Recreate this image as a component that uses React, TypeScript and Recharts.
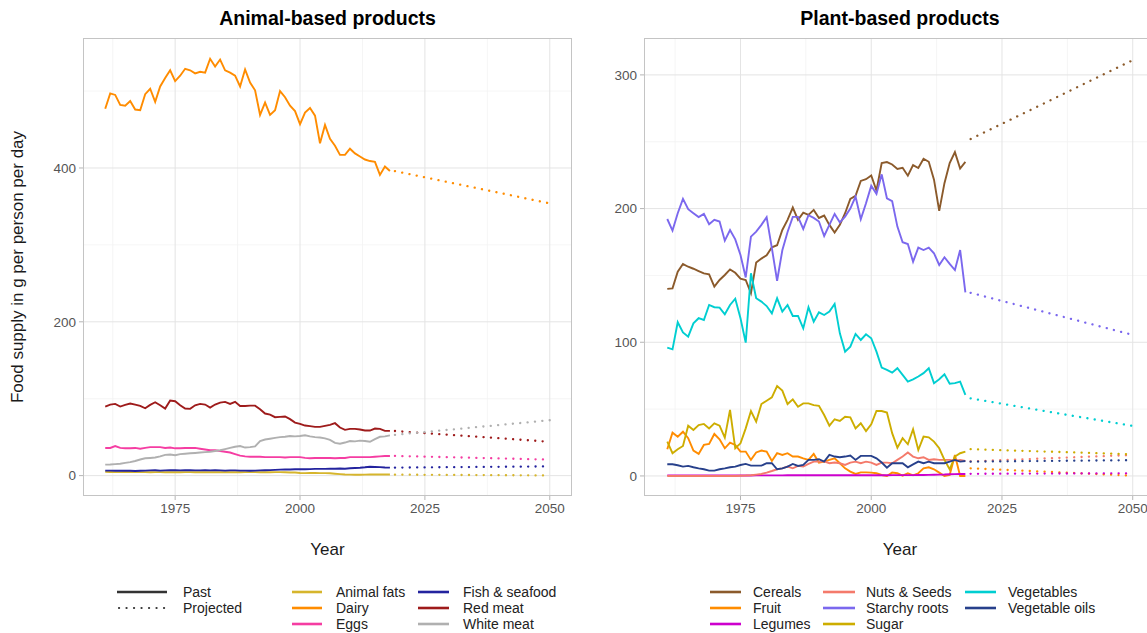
import React from 'react';
import { LineChart, Line, XAxis, YAxis, CartesianGrid } from 'recharts';

const FONT = '"Liberation Sans", Arial, Helvetica, sans-serif';

// x values
const YEARS = [
  1961, 1962, 1963, 1964, 1965, 1966, 1967, 1968, 1969, 1970,
  1971, 1972, 1973, 1974, 1975, 1976, 1977, 1978, 1979, 1980,
  1981, 1982, 1983, 1984, 1985, 1986, 1987, 1988, 1989, 1990,
  1991, 1992, 1993, 1994, 1995, 1996, 1997, 1998, 1999, 2000,
  2001, 2002, 2003, 2004, 2005, 2006, 2007, 2008, 2009, 2010,
  2011, 2012, 2013, 2014, 2015, 2016, 2017, 2018,
];
const PROJ_YEARS = [2019, 2050];
const X_TICKS = [1975, 2000, 2025, 2050];
const X_MINOR = [1962.5, 1987.5, 2012.5, 2037.5];

// ---- animal-based (g per person per day) ----
const ANIMAL_FATS = [
  5, 4.8, 4.5, 4.5, 4.8, 4.8, 4.5, 4.5, 4.5, 4.3,
  4.5, 4.5, 4.3, 4.5, 4.3, 4.3, 4.5, 4.5, 4.3, 4.3,
  4.3, 4.3, 4.5, 4.3, 4.3, 4.5, 4.3, 4.3, 4.5, 4.5,
  4.5, 4.3, 4.3, 4.3, 4.5, 4.5, 4.3, 4, 4, 3.5,
  3.2, 3.5, 3.5, 3.3, 3.2, 3, 2.5, 2, 1.5, 1.3,
  1.2, 1.2, 1.3, 1.4, 1.4, 1.5, 1.5, 1.5,
];
const DAIRY = [
  477, 497, 495, 482, 481, 487, 476, 475, 496, 503,
  486, 506, 517, 527, 513, 520, 529, 527, 523, 525,
  524, 542, 532, 541, 527, 524, 520, 506, 528, 511,
  501, 469, 485, 469, 475, 500, 492, 481, 474, 457,
  472, 478, 468, 432, 456, 438, 429, 417, 417, 425,
  419, 415, 411, 409, 408, 391, 402, 396,
];
const EGGS = [
  36, 36, 38.5, 36, 35.5, 35.5, 36, 35, 36, 37,
  37, 37, 36, 36.5, 35.5, 35.5, 36, 36, 36, 35,
  34, 33, 33, 32, 31, 30, 28, 26, 25, 24.5,
  24.5, 24.5, 24, 24, 24, 24, 23.5, 24, 24, 24,
  23, 22.5, 23, 23, 23, 23, 22.5, 23, 23, 24,
  24, 24, 24, 24, 24.5, 25, 25.5, 25.6,
];
const FISH = [
  6.5, 6.5, 6.3, 6.3, 6.5, 6.3, 6, 6.3, 6.5, 6.8,
  7, 6.5, 6.8, 7.2, 7, 6.8, 7, 7.2, 6.8, 6.8,
  7, 6.8, 7, 6.8, 6.5, 6.8, 6.8, 6.5, 6.5, 6.3,
  6.5, 6.8, 7, 7.2, 7.5, 7.8, 8, 8, 8.2, 8.5,
  8.3, 8.5, 8.8, 8.8, 8.8, 9, 9, 9.2, 9, 9.5,
  10, 10.3, 10.8, 11.5, 11.2, 11, 10.6, 10.4,
];
const RED_MEAT = [
  89.8, 92.4, 93.3, 89.8, 92, 93.7, 92.4, 90.6, 87.6, 92,
  95.4, 91.5, 87.2, 97.6, 96.7, 91.5, 87.2, 86.8, 91.5, 93.3,
  92.4, 88.5, 92.4, 95, 95.9, 93.3, 95.9, 90.6, 90.6, 91,
  91, 86.4, 80.7, 79.4, 76, 76.4, 76.9, 73.4, 69, 67.3,
  65.1, 64.3, 63.4, 63.4, 64.7, 66, 68.2, 62.5, 59.5, 60.8,
  60.8, 60, 58.6, 58.6, 61.2, 60.8, 58.2, 58.2,
];
const WHITE_MEAT = [
  14.3, 14.5, 15, 15.5, 16.5, 17.5, 19, 21, 22.5, 23,
  23.5, 25, 27, 27.5, 26.5, 28, 28.5, 29, 29.5, 30,
  30.5, 31, 32, 33, 34.5, 36, 37.5, 38.5, 36.5, 37,
  38, 45, 47, 48, 49, 50, 50.5, 51.5, 51, 51.5,
  52.5, 51, 50, 49.5, 48.5, 46.5, 42.5, 41.5, 43, 45,
  44.5, 45.5, 45, 44, 47.5, 50.5, 51, 52.3,
];
const ANIMAL_FATS_PROJ = [1.3, 0.2];
const DAIRY_PROJ = [396, 354];
const EGGS_PROJ = [25.6, 20.8];
const FISH_PROJ = [10.4, 12];
const RED_MEAT_PROJ = [58, 44];
const WHITE_MEAT_PROJ = [53, 72];

// ---- plant-based (g per person per day) ----
const CEREALS = [
  139.9, 140.3, 152.8, 158.5, 156.5, 155, 153.3, 151.5, 150.8, 141.6,
  146.6, 150.3, 154.5, 152, 147.6, 146.6, 136.6, 159.6, 162.6, 165,
  171, 172.6, 184, 191.6, 200.8, 191.6, 197, 195.3, 199, 193,
  194.8, 187.8, 182, 187.8, 196.5, 207.3, 209.5, 220.7, 222, 224.8,
  213.5, 234, 234.8, 233, 229.6, 230.5, 224.6, 232.5, 230.3, 237.3,
  235, 221.6, 198.3, 219, 234, 242.2, 230, 235,
];
const FRUIT = [
  20, 32.4, 29.4, 33.1, 28.2, 18.9, 16.5, 23.2, 23.9, 31.4,
  27.4, 20.7, 24.9, 23.2, 18.2, 18.2, 12, 17.6, 19, 18.2,
  11.2, 17, 15.7, 17, 14.5, 14.5, 13.2, 12, 16.5, 10,
  10.7, 12, 13.2, 9.5, 5.7, 3.2, 1.5, 2.7, 2.7, 2.5,
  2, 0.7, 0, 2.5, 2, 0.2, 2, 0.5, 2, 5.7,
  6.5, 5, 2.5, 0, 0.7, 15.7, 0, 0,
];
const LEGUMES = [
  0.4, 0.4, 0.3, 0.4, 0.3, 0.3, 0.4, 0.3, 0.3, 0.3,
  0.3, 0.3, 0.4, 0.3, 0.3, 0.3, 0.3, 0.4, 0.4, 0.4,
  0.4, 0.4, 0.4, 0.5, 0.5, 0.5, 0.5, 0.5, 0.5, 0.5,
  0.5, 0.5, 0.5, 0.5, 0.5, 0.5, 0.5, 0.5, 0.5, 0.5,
  0.5, 0.5, 0.5, 0.6, 0.6, 0.6, 0.6, 0.6, 0.7, 0.7,
  0.8, 0.9, 1, 1.1, 1.3, 1.4, 1.5, 1.5,
];
const NUTS = [
  0, 0, 0, 0, 0, 0, 0, 0, 0, 0,
  0, 0, 0, 0, 0.2, 0.3, 0.5, 1, 1.5, 2.5,
  3.7, 5, 5.7, 7, 5.7, 7.5, 7, 9, 10.7, 10.7,
  11, 9.5, 10, 9.5, 8.2, 10, 10.7, 9.5, 10.7, 10,
  8.2, 10, 10, 9.5, 12, 14.5, 17.5, 14.5, 13.2, 14,
  12, 12.5, 12, 12, 12, 11.5, 12, 11.2,
];
const STARCHY = [
  192.2, 183.5, 196.5, 207.3, 199.5, 196.5, 193.6, 196, 188.3, 191.6,
  190.3, 176, 184, 177, 165.3, 148.5, 179, 182.8, 187.8, 193.6,
  170.4, 146, 168.8, 182.5, 193.8, 193.8, 184.8, 195, 193, 190.3,
  179.5, 187.8, 196, 189.6, 194, 200, 209, 192, 204, 217,
  211, 225.6, 207.7, 205.6, 186.5, 174.8, 173.5, 160.3, 170.8, 169,
  170.8, 166.6, 157.8, 163.6, 158.6, 154, 169, 137.4,
];
const SUGAR = [
  25.7, 17, 20, 22.4, 37.6, 34.4, 38, 38.9, 35.6, 39.4,
  37.6, 28.7, 49.4, 20.7, 24.4, 35.6, 48.6, 40.6, 53.8, 56.3,
  58.8, 67.3, 63.8, 53.8, 57.3, 51.8, 54.3, 54.3, 53, 52.4,
  45.6, 37.6, 42.4, 41.1, 44.3, 43.8, 35.6, 39.4, 33.6, 38.6,
  48.6, 48.6, 47.4, 32, 21.2, 28.2, 23.7, 34.9, 19.4, 29.4,
  28.9, 25.7, 20.7, 12, 5, 14.5, 17, 18.2,
];
const VEGETABLES = [
  96, 94.7, 115, 107.4, 104.2, 114.2, 118, 116.7, 127.9, 126.2,
  125.9, 120.9, 127.9, 132.6, 118, 99.7, 151.6, 132.9, 130.4, 127.1,
  121.6, 132.9, 122.9, 127.9, 119.7, 119.7, 110.4, 126.2, 115.4, 122.4,
  120.4, 122.9, 128.7, 106.7, 93, 96.7, 106.2, 101.7, 106, 103,
  93, 81, 79.3, 77.3, 80.6, 75.6, 70.6, 72.3, 74.4, 76.9,
  80.6, 69.4, 72.3, 76, 69, 69.4, 70.6, 60.6,
];
const VEG_OILS = [
  8.7, 8.7, 8, 7, 7.5, 6.5, 5.7, 5, 4, 4,
  5, 5.7, 6.5, 7, 8.2, 9, 7.7, 7.7, 7.7, 9.5,
  9.5, 5, 5.7, 7, 9, 7.5, 8.2, 12, 12, 12.5,
  10.7, 15.7, 14.5, 14, 14.5, 15.2, 12, 15, 15, 15,
  13.2, 10, 6.2, 9.5, 9.5, 9.5, 6.5, 8.7, 10.7, 9.5,
  10.7, 9.5, 9.5, 9.5, 10.7, 12, 10.7, 11.2,
];
const CEREALS_PROJ = [252, 311];
const FRUIT_PROJ = [5.7, 0.2];
const LEGUMES_PROJ = [1.6, 2];
const NUTS_PROJ = [10.9, 15.7];
const STARCHY_PROJ = [137, 105.5];
const SUGAR_PROJ = [20, 16.2];
const VEGETABLES_PROJ = [58, 37.4];
const VEG_OILS_PROJ = [10.7, 11.8];

type Series = { key: string; name: string; color: string; past: number[]; proj: number[] };

const ANIMAL: Series[] = [
  { key: 'fats', name: 'Animal fats', color: '#D6B52C', past: ANIMAL_FATS, proj: ANIMAL_FATS_PROJ },
  { key: 'dairy', name: 'Dairy', color: '#FF8C00', past: DAIRY, proj: DAIRY_PROJ },
  { key: 'eggs', name: 'Eggs', color: '#F53DA2', past: EGGS, proj: EGGS_PROJ },
  { key: 'fish', name: 'Fish & seafood', color: '#23239E', past: FISH, proj: FISH_PROJ },
  { key: 'red', name: 'Red meat', color: '#9E1B1B', past: RED_MEAT, proj: RED_MEAT_PROJ },
  { key: 'white', name: 'White meat', color: '#B0B0B0', past: WHITE_MEAT, proj: WHITE_MEAT_PROJ },
];

const PLANT: Series[] = [
  { key: 'cereals', name: 'Cereals', color: '#8B5A2B', past: CEREALS, proj: CEREALS_PROJ },
  { key: 'fruit', name: 'Fruit', color: '#FF8C00', past: FRUIT, proj: FRUIT_PROJ },
  { key: 'legumes', name: 'Legumes', color: '#CD00CD', past: LEGUMES, proj: LEGUMES_PROJ },
  { key: 'nuts', name: 'Nuts & Seeds', color: '#F47A6B', past: NUTS, proj: NUTS_PROJ },
  { key: 'starchy', name: 'Starchy roots', color: '#7B68EE', past: STARCHY, proj: STARCHY_PROJ },
  { key: 'sugar', name: 'Sugar', color: '#CDAD00', past: SUGAR, proj: SUGAR_PROJ },
  { key: 'veg', name: 'Vegetables', color: '#00CED1', past: VEGETABLES, proj: VEGETABLES_PROJ },
  { key: 'oils', name: 'Vegetable oils', color: '#27408B', past: VEG_OILS, proj: VEG_OILS_PROJ },
];

function buildRows(series: Series[]) {
  const rows: any[] = YEARS.map((year, i) => {
    const r: any = { year };
    series.forEach((s) => { r[s.key] = s.past[i]; });
    return r;
  });
  PROJ_YEARS.forEach((year, i) => {
    const r: any = { year };
    series.forEach((s) => { r[s.key + '_p'] = s.proj[i]; });
    rows.push(r);
  });
  return rows;
}

const TICK = { fill: '#555', fontSize: 13.5, fontFamily: FONT };

type PanelProps = {
  left: number; width: number; plotLeft: number; plotRight: number;
  title: string; series: Series[];
  yDomain: [number, number]; yTicks: number[]; yMinor: number[];
};

const PLOT_TOP = 38;
const PLOT_BOTTOM = 496;
const H = 633;
const Y_AXIS_W = 40;
const X_AXIS_H = 40;

function Panel({ left, width, plotLeft, plotRight, title, series, yDomain, yTicks, yMinor }: PanelProps) {
  const rows = buildRows(series);
  const margin = {
    top: PLOT_TOP,
    left: plotLeft - left - Y_AXIS_W,
    right: left + width - plotRight,
    bottom: H - PLOT_BOTTOM - X_AXIS_H,
  };
  const center = (plotLeft + plotRight) / 2;
  return (
    <>
      <div style={{ position: 'absolute', left, top: 0, width, height: H }}>
        <LineChart width={width} height={H} data={rows} margin={margin}>
          <CartesianGrid horizontalValues={yMinor} verticalValues={X_MINOR} stroke="#f3f3f3" strokeWidth={0.8} />
          <CartesianGrid horizontalValues={yTicks} verticalValues={X_TICKS} stroke="#e4e4e4" strokeWidth={1} />
          <XAxis
            dataKey="year" type="number" domain={[1956.55, 2054.45]} ticks={X_TICKS}
            allowDataOverflow axisLine={false} tickLine={{ stroke: '#b5b5b5' }} tickSize={4}
            tickMargin={3} tick={TICK} height={X_AXIS_H}
          />
          <YAxis
            type="number" domain={yDomain} ticks={yTicks} allowDataOverflow
            axisLine={false} tickLine={{ stroke: '#b5b5b5' }} tickSize={4} tickMargin={3}
            tick={TICK} width={Y_AXIS_W}
          />
          {series.map((s) => (
            <Line key={s.key} dataKey={s.key} stroke={s.color} strokeWidth={1.9} dot={false}
              type="linear" isAnimationActive={false} />
          ))}
          {series.map((s) => (
            <Line key={s.key + '_p'} dataKey={s.key + '_p'} stroke={s.color} strokeWidth={2.3}
              strokeDasharray="0.1 7.3" strokeLinecap="round" dot={false} type="linear"
              isAnimationActive={false} />
          ))}
        </LineChart>
      </div>
      <div style={{
        position: 'absolute', left: plotLeft, top: PLOT_TOP, width: plotRight - plotLeft,
        height: PLOT_BOTTOM - PLOT_TOP, border: '1px solid #c4c4c4', boxSizing: 'border-box',
        pointerEvents: 'none',
      }} />
      <div style={{
        position: 'absolute', left: center - 200, width: 400, top: 6, textAlign: 'center',
        fontFamily: FONT, fontWeight: 'bold', fontSize: 19.5, color: '#000', lineHeight: '24px',
      }}>{title}</div>
      <div style={{
        position: 'absolute', left: center - 100, width: 200, top: 539, textAlign: 'center',
        fontFamily: FONT, fontSize: 17, color: '#1a1a1a', lineHeight: '22px',
      }}>Year</div>
    </>
  );
}

type KeyItem = { x: number; keyW: number; labelX: number; row: number; label: string; color: string; dotted?: boolean };

const ROWS_Y = [592, 608, 624];

function LegendItem({ x, keyW, labelX, row, label, color, dotted }: KeyItem) {
  const y = ROWS_Y[row];
  return (
    <>
      <svg style={{ position: 'absolute', left: x, top: y - 4 }} width={keyW} height={8}>
        <line x1={dotted ? 2 : 0} x2={keyW} y1={4} y2={4} stroke={color}
          strokeWidth={dotted ? 2.2 : 2.6} strokeLinecap={dotted ? 'round' : 'butt'}
          strokeDasharray={dotted ? '0.1 7.4' : undefined} />
      </svg>
      <div style={{
        position: 'absolute', left: labelX, top: y - 8, fontFamily: FONT, fontSize: 14,
        lineHeight: '16px', color: '#222', whiteSpace: 'nowrap',
      }}>{label}</div>
    </>
  );
}

function seriesLegend(series: Series[], cols: { key: number; label: number; w: number }[]) {
  return series.map((s, i) => {
    const c = cols[Math.floor(i / 3)];
    return (
      <LegendItem key={s.key} x={c.key} keyW={c.w} labelX={c.label} row={i % 3} label={s.name} color={s.color} />
    );
  });
}

export default function App() {
  return (
    <div style={{ position: 'absolute', left: 0, top: 0, width: 1147, height: 633, overflow: 'hidden', background: '#fff' }}>
      <Panel left={0} width={600} plotLeft={83} plotRight={572} title="Animal-based products"
        series={ANIMAL} yDomain={[-26.5, 569]} yTicks={[0, 200, 400]} yMinor={[100, 300, 500]} />
      <Panel left={600} width={560} plotLeft={644} plotRight={1156} title="Plant-based products"
        series={PLANT} yDomain={[-15, 327.6]} yTicks={[0, 100, 200, 300]} yMinor={[50, 150, 250]} />

      <div style={{
        position: 'absolute', left: 18 - 200, top: 267 - 11, width: 400, height: 22, textAlign: 'center',
        transform: 'rotate(-90deg)', fontFamily: FONT, fontSize: 17, lineHeight: '22px', color: '#1a1a1a',
      }}>Food supply in g per person per day</div>

      <LegendItem x={117} keyW={50} labelX={183} row={0} label="Past" color="#333" />
      <LegendItem x={117} keyW={50} labelX={183} row={1} label="Projected" color="#333" dotted />
      {seriesLegend(ANIMAL, [{ key: 292, label: 336, w: 30 }, { key: 418, label: 463, w: 31 }])}
      {seriesLegend(PLANT, [{ key: 710, label: 753, w: 31 }, { key: 823, label: 866, w: 32 }, { key: 965, label: 1008, w: 31 }])}
    </div>
  );
}
